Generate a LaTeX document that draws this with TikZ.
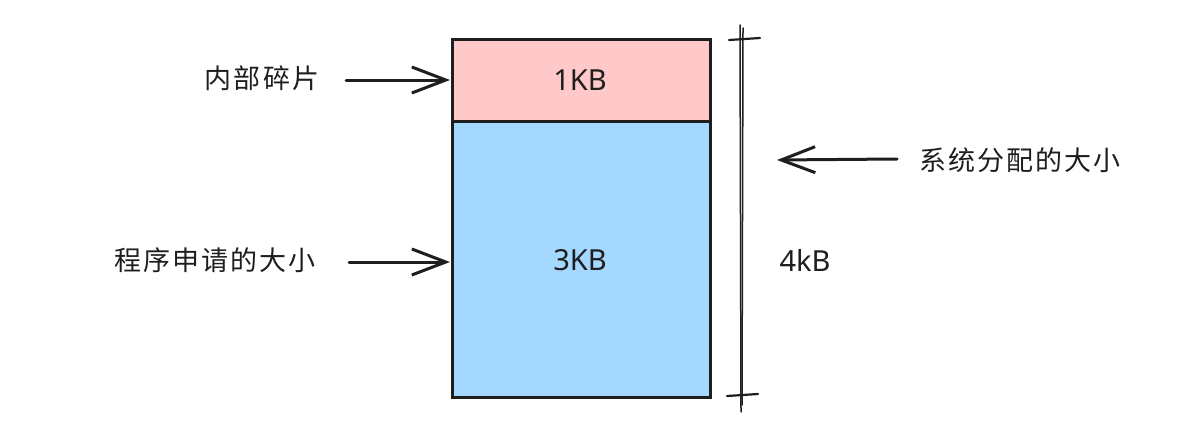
\documentclass[tikz,border=0pt]{standalone}
\usepackage{fontspec}
\setmainfont{Noto Sans}
\newfontfamily\cjk[LetterSpace=8]{Noto Sans CJK SC}
\usetikzlibrary{arrows.meta}
\definecolor{ink}{HTML}{1E1E1E}
\definecolor{pinkfill}{HTML}{FFC9C9}
\definecolor{bluefill}{HTML}{A5D8FF}
\tikzset{
  block/.style={draw=ink, line width=3pt, minimum width=258pt, inner sep=0pt, outer sep=0pt},
  cjklabel/.style={font=\cjk\fontsize{27}{30}\selectfont, text=ink, inner sep=0pt},
  numlabel/.style={font=\fontsize{29}{32}\selectfont, text=ink, inner sep=0pt},
  pointer/.style={draw=ink, line width=3pt, line cap=round, -{Straight Barb[length=34pt,width=26pt,line width=3pt]}},
  sketch/.style={draw=ink, line width=1.5pt, line cap=round}
}
\begin{document}
\begin{tikzpicture}[x=1pt,y=-1pt]
\useasboundingbox (0,0) rectangle (1182,420);
% blocks
\node[block, fill=bluefill, minimum height=276pt] (big) at (581,259) {};
\node[block, fill=pinkfill, minimum height=81pt] (small) at (581,80.5) {};
\node[numlabel] (l1) at (580,80) {1KB};
\node[numlabel] (l3) at (580,260) {3KB};
% dimension line
\coordinate (vt1) at (740,25);
\coordinate (vb1) at (741,412);
\coordinate (vt2) at (743,28);
\coordinate (vb2) at (742,405);
\draw[sketch] (vt1) -- (vb1);
\draw[sketch] (vt2) -- (vb2);
\coordinate (tl) at (729,40);
\coordinate (tr) at (760,38);
\coordinate (bl) at (727,396);
\coordinate (br) at (758,394);
\draw[sketch, line width=2.2pt] (tl) -- (tr);
\draw[sketch, line width=2.2pt] (bl) -- (br);
\node[numlabel] (l4) at (805,260) {4kB};
% labels
\node[cjklabel] (frag) at (262,78) {内部碎片};
\node[cjklabel] (req) at (215,260) {程序申请的大小};
\node[cjklabel] (alloc) at (1020,160) {系统分配的大小};
\coordinate (a1s) at (346,80);
\coordinate (a1e) at (450,80);
\coordinate (a2s) at (349,262);
\coordinate (a2e) at (450,262);
\coordinate (a3s) at (897,159);
\coordinate (a3e) at (777,160);
\draw[pointer] (a1s) -- (a1e);
\draw[pointer] (a2s) -- (a2e);
\draw[pointer] (a3s) -- (a3e);
\end{tikzpicture}
\end{document}
